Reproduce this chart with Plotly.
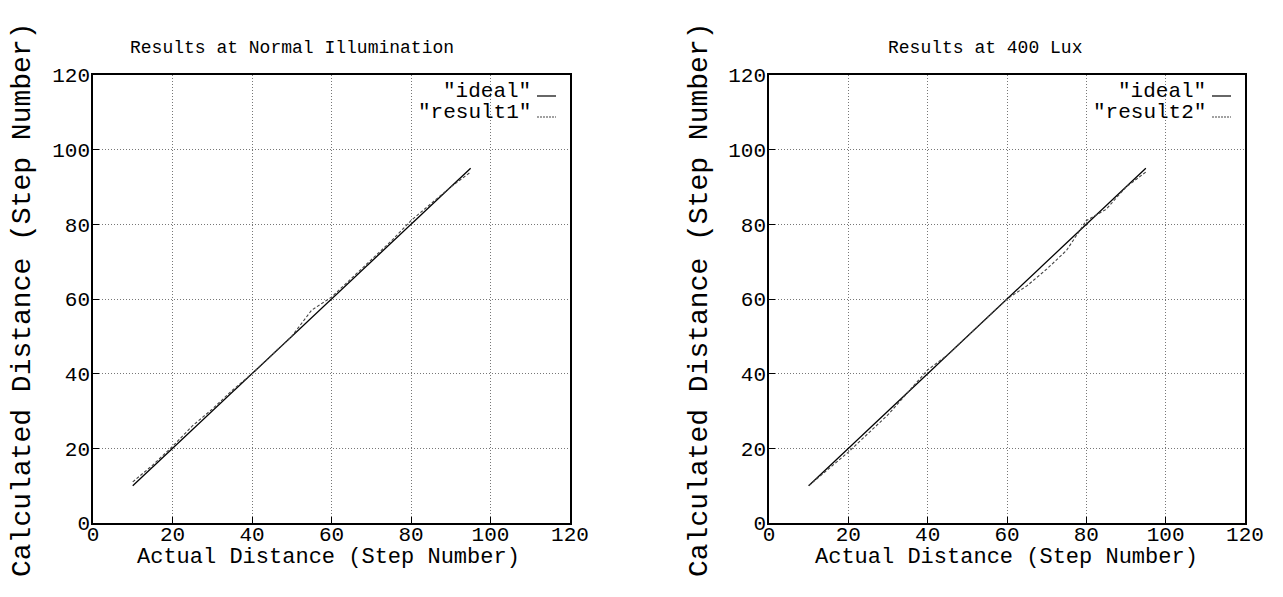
import plotly.graph_objects as go

# ---- data ----
x_ideal = [10, 95]
y_ideal = [10, 95]

x_res1 = [10, 15, 20, 25, 30, 35, 40, 45, 50, 55, 60, 65, 70, 75, 80, 85, 90, 95]
y_res1 = [11, 15.5, 20.5, 26, 30.5, 35.5, 40, 45, 50, 57, 60.5, 65.5, 70.5, 75.5, 81, 85.5, 90, 94]

x_res2 = [10, 15, 20, 25, 30, 35, 40, 45, 50, 55, 60, 65, 70, 75, 80, 85, 90, 95]
y_res2 = [10, 14.5, 19, 24, 29, 35, 41, 45, 50, 55, 60, 63.5, 68, 73, 81, 84, 90, 94]

titles = ["Results at Normal Illumination", "Results at 400 Lux"]
legend_names = [['"ideal"', '"result1"'], ['"ideal"', '"result2"']]
tick_vals = [0, 20, 40, 60, 80, 100, 120]
x_title = "Actual Distance (Step Number)"
y_title = "Calculated Distance (Step Number)"

FONT = "Courier New, Liberation Mono, monospace"
W, H = 1283, 597
OFF = 8  # page body margin


def px(x):
    return (x - OFF) / W


def py(y):
    return 1 - (y - OFF) / H


fig = go.Figure()

doms = [(px(93), px(570)), (px(769), px(1245))]
ydom = (py(523), py(75))

series = [(x_res1, y_res1), (x_res2, y_res2)]
for i in range(2):
    xa = "x" if i == 0 else "x2"
    ya = "y" if i == 0 else "y2"
    fig.add_trace(go.Scatter(x=x_ideal, y=y_ideal, mode="lines", xaxis=xa, yaxis=ya,
                             line=dict(color="black", width=1.3), showlegend=False))
    fig.add_trace(go.Scatter(x=series[i][0], y=series[i][1], mode="lines", xaxis=xa, yaxis=ya,
                             line=dict(color="#444444", width=1.1, dash="3px,2px"), showlegend=False))

axis_common = dict(range=[0, 120], tickvals=tick_vals, showline=True, mirror=True,
                   linecolor="black", linewidth=1.5, showgrid=True, gridcolor="#777777",
                   griddash="1px,2px", gridwidth=1, ticks="inside", ticklen=6, tickcolor="black",
                   tickfont=dict(family=FONT, size=21, color="black"), zeroline=False,
                   automargin=False)

fig.update_layout(
    width=W, height=H, paper_bgcolor="white", plot_bgcolor="white",
    margin=dict(l=0, r=0, t=0, b=0, pad=0), showlegend=False,
    xaxis=dict(domain=doms[0], anchor="y", ticklabelstandoff=-9, **axis_common),
    yaxis=dict(domain=ydom, anchor="x", ticklabelstandoff=-3, **axis_common),
    xaxis2=dict(domain=doms[1], anchor="y2", ticklabelstandoff=-9, **axis_common),
    yaxis2=dict(domain=ydom, anchor="x2", ticklabelstandoff=-3, **axis_common),
)

annotations = []
shapes = []
title_cx = [292, 985]
ytitle_cx = [22, 699]
xtitle_cx = [328, 1006]
for i in range(2):
    annotations.append(dict(text=titles[i], x=px(title_cx[i]), y=py(48), xref="paper", yref="paper",
                            showarrow=False, xanchor="center", yanchor="middle",
                            font=dict(family=FONT, size=18, color="black")))
    annotations.append(dict(text=x_title, x=px(xtitle_cx[i]), y=py(557), xref="paper", yref="paper",
                            showarrow=False, xanchor="center", yanchor="middle",
                            font=dict(family=FONT, size=22, color="black")))
    annotations.append(dict(text=y_title, x=px(ytitle_cx[i]), y=py(300), xref="paper", yref="paper",
                            showarrow=False, xanchor="center", yanchor="middle", textangle=-90,
                            font=dict(family=FONT, size=28, color="black")))
    right_px = [570, 1245][i]
    for j, name in enumerate(legend_names[i]):
        ypx = 92 + j * 21
        annotations.append(dict(text=name, x=px(right_px - 37), y=py(ypx), xref="paper", yref="paper",
                                showarrow=False, xanchor="right", yanchor="middle",
                                font=dict(family=FONT, size=21, color="black")))
        shapes.append(dict(type="line", xref="paper", yref="paper",
                           x0=px(right_px - 33), x1=px(right_px - 14),
                           y0=py(ypx + 4), y1=py(ypx + 4),
                           line=dict(color="black" if j == 0 else "#444444", width=1.2,
                                     dash="solid" if j == 0 else "2px,1px")))

fig.update_layout(annotations=annotations, shapes=shapes)
fig.write_html("out.html")
